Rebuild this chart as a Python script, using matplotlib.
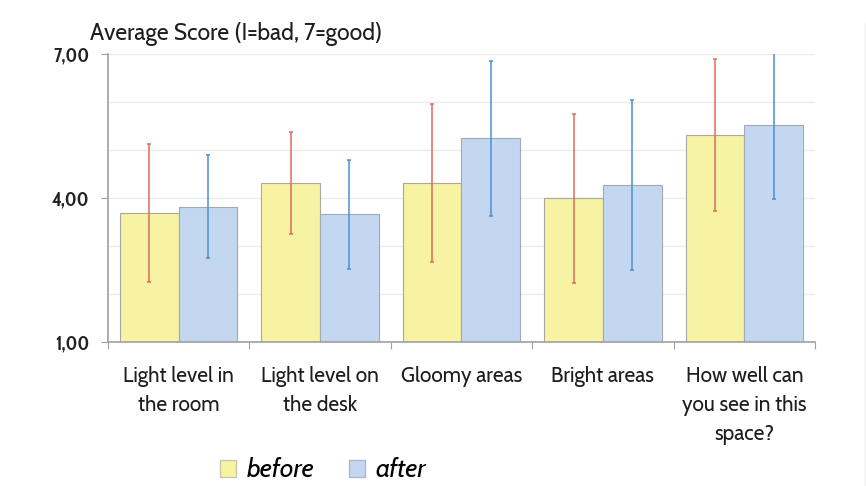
import matplotlib
matplotlib.use("Agg")
import matplotlib.pyplot as plt
import numpy as np
from matplotlib.patches import Patch

# data
categories = ["Light level in\nthe room", "Light level on\nthe desk", "Gloomy areas",
              "Bright areas", "How well can\nyou see in this\nspace?"]
before_mean = [3.69, 4.31, 4.31, 3.99, 5.31]
before_err = [1.43, 1.06, 1.65, 1.77, 1.58]
after_mean = [3.82, 3.66, 5.24, 4.28, 5.53]
after_err = [1.08, 1.13, 1.61, 1.77, 1.55]
yticks = [1, 4, 7]
ytick_labels = ["1,00", "4,00", "7,00"]

plt.rcParams['font.family'] = ['Cabin', 'DejaVu Sans']

fig = plt.figure(figsize=(8.66, 4.86), dpi=100)
ax = fig.add_axes([0.1247, 0.2963, 0.8164, 0.5926])

x = np.arange(len(categories))
w = 0.415
ax.bar(x - w / 2, before_mean, w, color='#F8F3A2', edgecolor='#A8A8A0',
       linewidth=0.8, zorder=2)
ax.bar(x + w / 2, after_mean, w, color='#C3D8F0', edgecolor='#A0A8B0',
       linewidth=0.8, zorder=2)
ax.errorbar(x - w / 2, before_mean, yerr=before_err, fmt='none', ecolor='#E06A5A',
            elinewidth=1.1, capsize=1.5, capthick=1.1, zorder=3)
ax.errorbar(x + w / 2, after_mean, yerr=after_err, fmt='none', ecolor='#4A8FD0',
            elinewidth=1.1, capsize=1.5, capthick=1.1, zorder=3)

ax.set_xlim(-0.5, len(categories) - 0.5)
ax.set_ylim(1, 7)
ax.set_yticks(yticks)
ax.set_yticklabels(ytick_labels, fontsize=14, fontweight='bold', color='#222222',
                   family=['Cabin Condensed', 'DejaVu Sans'])
ax.set_yticks(np.arange(1, 8), minor=True)
ax.yaxis.grid(True, which='both', color='#ECECEC', linewidth=1.0, zorder=0)
ax.set_axisbelow(True)

# category labels between divider ticks
ax.set_xticks(np.arange(-0.5, len(categories)))
ax.set_xticklabels([])
ax.tick_params(axis='x', length=5, color='#A0A0A0', direction='out')
ax.tick_params(axis='y', length=5, color='#A0A0A0', which='major', pad=8)
ax.tick_params(axis='y', which='minor', length=0)
for i, lab in enumerate(categories):
    ax.text(i, -0.085, lab, transform=ax.get_xaxis_transform(), ha='center', va='top',
            fontsize=15, color='#1E1E1E', linespacing=1.5)

for s in ['top', 'right']:
    ax.spines[s].set_visible(False)
for s in ['left', 'bottom']:
    ax.spines[s].set_color('#A0A0A0')
    ax.spines[s].set_linewidth(1.2)

fig.text(0.104, 0.93, "Average Score (I=bad, 7=good)", fontsize=16.5, color='#1E1E1E',
         va='center', ha='left')

handles = [Patch(facecolor='#F8F3A2', edgecolor='#C8C8B0'),
           Patch(facecolor='#C3D8F0', edgecolor='#B0B8C8')]
fig.legend(handles, ['before', 'after'], loc='center', bbox_to_anchor=(0.373, 0.032),
           ncol=2, frameon=False, handlelength=0.6, handleheight=0.6,
           handletextpad=0.4, columnspacing=1.3,
           prop={'size': 19, 'weight': 'bold', 'style': 'italic',
                 'family': ['Cabin', 'DejaVu Sans']})

fig.add_artist(plt.Line2D([0.999, 0.999], [0.0, 0.95], color='#EEEEEE', linewidth=1,
                          transform=fig.transFigure))

fig.savefig("out.png", dpi=100)
